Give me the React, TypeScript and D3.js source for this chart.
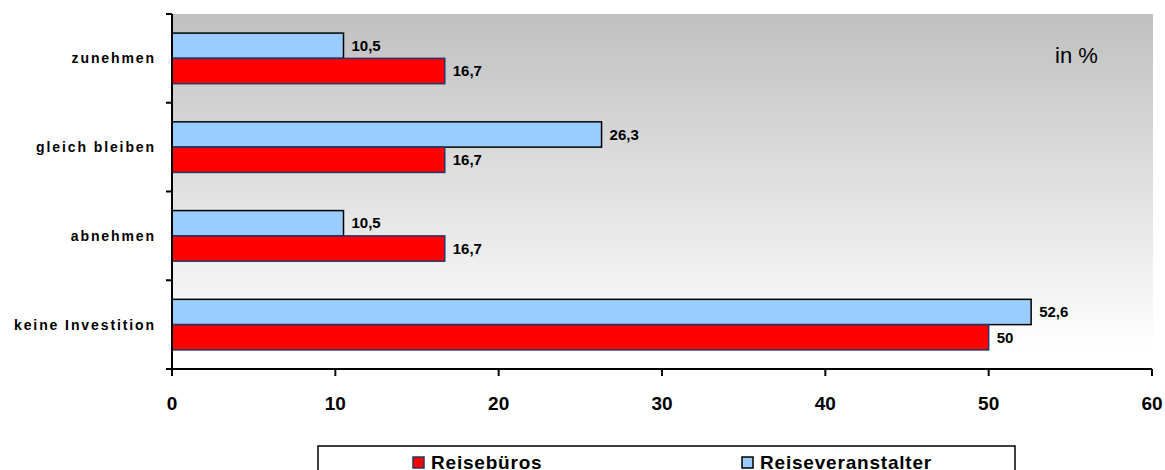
import React from "react";
import * as d3 from "d3";

const categories = ["zunehmen", "gleich bleiben", "abnehmen", "keine Investition"];
const reiseveranstalter = [10.5, 26.3, 10.5, 52.6];
const reisebueros = [16.7, 16.7, 16.7, 50];
const xTicks = [0, 10, 20, 30, 40, 50, 60];
const seriesNames = ["Reisebüros", "Reiseveranstalter"];

const W = 1165, H = 470;
const left = 172, right = 1153, top = 14, bottom = 369;

const fmt = (v: number) => String(v).replace(".", ",");

export default function App() {
  const x = d3.scaleLinear().domain([0, 60]).range([left, right - 1]);
  const y = d3.scaleBand<string>().domain(categories).range([top, bottom]).paddingInner(0.43).paddingOuter(0.215);
  const bh = y.bandwidth() / 2;
  const font = "Arial, 'Liberation Sans', sans-serif";
  const bandStep = (bottom - top) / categories.length;
  return (
    <svg width={W} height={H} style={{ position: "absolute", left: 0, top: 0, fontFamily: font }}>
      <defs>
        <linearGradient id="bg" x1="0" y1="0" x2="0" y2="1">
          <stop offset="0" stopColor="#c0c0c0" />
          <stop offset="0.95" stopColor="#ffffff" />
          <stop offset="1" stopColor="#ffffff" />
        </linearGradient>
      </defs>
      <rect x={0} y={0} width={W} height={H} fill="#fff" />
      <rect x={left} y={top} width={right - left} height={bottom - top} fill="url(#bg)" />
      {categories.map((c, i) => {
        const y0 = y(c)!;
        return (
          <g key={c}>
            <rect x={x(0)} y={y0} width={x(reiseveranstalter[i]) - x(0)} height={bh} fill="#99ccff" stroke="#000" strokeWidth={1.5} />
            <rect x={x(0)} y={y0 + bh} width={x(reisebueros[i]) - x(0)} height={bh} fill="#ff0000" stroke="#1f3864" strokeWidth={1.5} />
            <text x={x(reiseveranstalter[i]) + 8} y={y0 + bh / 2} dy="0.35em" fontSize={15} fontWeight="bold">{fmt(reiseveranstalter[i])}</text>
            <text x={x(reisebueros[i]) + 8} y={y0 + bh * 1.5} dy="0.35em" fontSize={15} fontWeight="bold">{fmt(reisebueros[i])}</text>
            <text x={156} y={y0 + bh} dy="0.35em" textAnchor="end" fontSize={14} fontWeight="bold" letterSpacing={1.9}>{c}</text>
          </g>
        );
      })}
      {/* y axis */}
      <line x1={left} y1={top} x2={left} y2={bottom} stroke="#000" strokeWidth={2} />
      {d3.range(categories.length + 1).map((i) => (
        <line key={i} x1={left - 6} x2={left} y1={top + i * bandStep} y2={top + i * bandStep} stroke="#000" strokeWidth={2} />
      ))}
      {/* x axis */}
      <line x1={left} y1={bottom} x2={x(60)} y2={bottom} stroke="#000" strokeWidth={2} />
      {xTicks.map((t) => (
        <g key={t}>
          <line x1={x(t)} x2={x(t)} y1={bottom} y2={bottom + 7} stroke="#000" strokeWidth={2} />
          <text x={x(t)} y={410} textAnchor="middle" fontSize={19} fontWeight="bold">{t}</text>
        </g>
      ))}
      <text x={1055} y={63} fontSize={22}>in %</text>
      {/* legend */}
      <rect x={318} y={446} width={697} height={40} fill="#fff" stroke="#000" strokeWidth={1.5} />
      <rect x={413} y={457} width={11} height={11} fill="#ff0000" stroke="#1f3864" strokeWidth={1.5} />
      <text x={431} y={469} fontSize={19} fontWeight="bold" letterSpacing={0.8}>{seriesNames[0]}</text>
      <rect x={742} y={457} width={11} height={11} fill="#99ccff" stroke="#000" strokeWidth={1.5} />
      <text x={760} y={469} fontSize={19} fontWeight="bold" letterSpacing={0.8}>{seriesNames[1]}</text>
    </svg>
  );
}
